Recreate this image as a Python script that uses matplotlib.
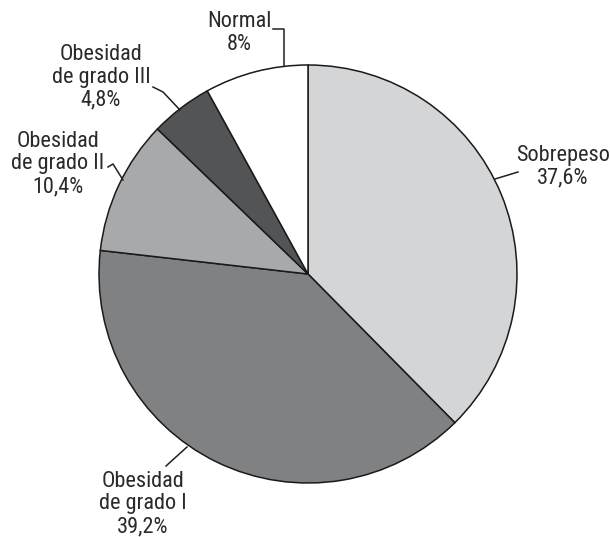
import matplotlib
matplotlib.use("Agg")
import matplotlib.pyplot as plt

plt.rcParams['font.family'] = ['Roboto Condensed', 'DejaVu Sans']

categories = ["Sobrepeso", "Obesidad\nde grado I", "Obesidad\nde grado II",
              "Obesidad\nde grado III", "Normal"]
pct_labels = ["37,6%", "39,2%", "10,4%", "4,8%", "8%"]
values = [37.6, 39.2, 10.4, 4.8, 8.0]
colors = ["#d4d5d7", "#808183", "#a8a9ab", "#535456", "#ffffff"]

# label text centre and leader line (pixel coords, y down)
label_pos = [(563, 167), (143, 504), (58, 164), (101, 77), (239, 33)]
leaders = [
    [(495, 179), (518, 172)],
    [(187, 447), (166, 466)],
    [(123, 180), (113, 164), (108, 167)],
    [(180, 110), (163, 92), (153, 87)],
    [(284, 66), (284, 29), (273, 29)],
]

fig = plt.figure(figsize=(6.10, 5.37), dpi=100)
ax = fig.add_axes([0, 0, 1, 1])

# y axis is inverted below, so counterclock=True runs clockwise on screen
ax.pie(values, colors=colors, startangle=-90, counterclock=True,
       center=(308, 274), radius=209,
       wedgeprops=dict(edgecolor="#1a1a1a", linewidth=1.1))

for cat, pct, (x, y), pts in zip(categories, pct_labels, label_pos, leaders):
    ax.text(x, y, cat + "\n" + pct, ha="center", va="center",
            fontsize=16, color="#2a2a2a", linespacing=1.1)
    xs = [p[0] for p in pts]
    ys = [p[1] for p in pts]
    ax.plot(xs, ys, color="#231f20", lw=1.1)

ax.set_xlim(0, 610)
ax.set_ylim(537, 0)
ax.set_aspect("equal")
ax.axis("off")

fig.savefig("out.png", dpi=100, facecolor="white")
